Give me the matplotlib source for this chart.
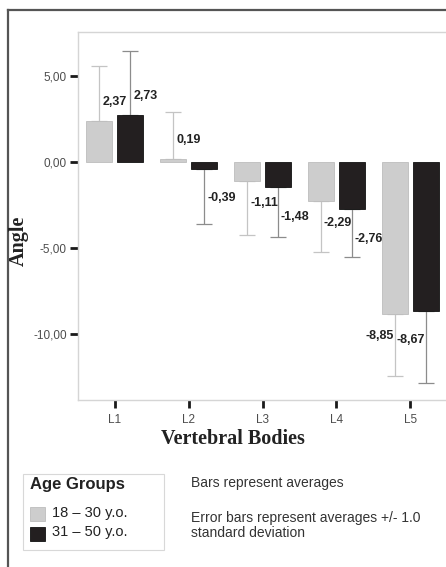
import numpy as np
import matplotlib
matplotlib.use("Agg")
import matplotlib.pyplot as plt
from matplotlib.lines import Line2D
from matplotlib.patches import Rectangle

# ---------------------------------------------------------------------------
# Data
# ---------------------------------------------------------------------------
vertebrae = ["L1", "L2", "L3", "L4", "L5"]
groups = ["18 \u2013 30 y.o.", "31 \u2013 50 y.o."]
mean_young = [2.37, 0.19, -1.11, -2.29, -8.85]
mean_old = [2.73, -0.39, -1.48, -2.76, -8.67]
sd_young = [3.21, 2.71, 3.15, 2.96, 3.61]
sd_old = [3.73, 3.21, 2.86, 2.77, 4.17]
yticks = [5, 0, -5, -10]

SANS = "Liberation Sans"
SERIF = "Liberation Serif"
W, H = 446, 567


def fx(px):
    return px / W


def fy(py):
    return 1 - py / H


fig = plt.figure(figsize=(W / 100, H / 100), dpi=100)
fig.patch.set_facecolor("white")
ax = fig.add_axes([fx(78), fy(400), fx(447) - fx(78), fy(32) - fy(400)])

x = np.arange(len(vertebrae))
width = 0.35
offset = 0.21

series = [
    (mean_young, sd_young, "#cdcdcd", "#bdbdbd", "#c4c4c4", -offset, 1.25),
    (mean_old, sd_old, "#231f20", "#111111", "#8c8c8c", offset, 1.7),
]

for means, sds, fc, ec, errc, dx, lab_off in series:
    means = np.asarray(means)
    sds = np.asarray(sds)
    # one-sided error bars, pointing away from zero
    lower = np.where(means < 0, sds, 0)
    upper = np.where(means >= 0, sds, 0)
    ax.errorbar(x + dx, means, yerr=[lower, upper], fmt="none",
                ecolor=errc, elinewidth=0.9, capsize=6, capthick=0.9, zorder=1)
    ax.bar(x + dx, means, width=width, color=fc, edgecolor=ec, linewidth=0.6, zorder=2)
    for i, (xi, m) in enumerate(zip(x + dx, means)):
        off = lab_off if m < 0 else 1.1
        ypos = m + (off if m >= 0 else -off)
        last = i == len(means) - 1
        # labels sit right of the whisker, except the last group (left of it)
        ax.annotate(f"{m:.2f}".replace(".", ","), (xi, ypos),
                    xytext=(-1 if last else 3, 0), textcoords="offset pixels",
                    ha="right" if last else "left", va="center",
                    fontsize=9, fontweight="bold", family=SANS,
                    color="#222222", zorder=3)

ax.set_xlim(-0.5, 4.5)
ax.set_ylim(-13.85, 7.57)
ax.set_xticks(x)
ax.set_xticklabels(vertebrae)
ax.set_yticks(yticks)
ax.set_yticklabels([f"{v:.2f}".replace(".", ",") for v in yticks])
ax.tick_params(axis="both", length=6, width=2, color="#1a1a1a",
               labelsize=8.5, labelcolor="#4d4d4d")
ax.tick_params(axis="y", pad=2)
ax.tick_params(axis="x", pad=4)
for lab in ax.get_xticklabels() + ax.get_yticklabels():
    lab.set_family(SANS)
for sp in ax.spines.values():
    sp.set_color("#d5d5d5")
    sp.set_linewidth(1.0)

# axis titles
fig.text(fx(19), fy(241), "Angle", rotation=90, ha="center", va="center",
         family=SERIF, fontweight="bold", fontsize=14.5, color="#222222")
fig.text(fx(233), fy(439), "Vertebral Bodies", ha="center", va="center",
         family=SERIF, fontweight="bold", fontsize=14.5, color="#222222")

# outer frame (top and left visible, rest cropped)
fig.add_artist(Line2D([fx(8), 1], [fy(10), fy(10)], transform=fig.transFigure,
                      color="#555555", lw=1.6))
fig.add_artist(Line2D([fx(8), fx(8)], [fy(10), 0], transform=fig.transFigure,
                      color="#555555", lw=1.6))

# legend box
fig.add_artist(Rectangle((fx(23), fy(550)), fx(164) - fx(23), fy(474) - fy(550),
                         transform=fig.transFigure, fill=False,
                         edgecolor="#d8d8d8", lw=0.8))
fig.text(fx(30), fy(484), "Age Groups", ha="left", va="center",
         family=SANS, fontweight="bold", fontsize=12, color="#222222")
for i, (name, (_, _, fc, ec, _, _, _)) in enumerate(zip(groups, series)):
    top = 507 + i * 20
    fig.add_artist(Rectangle((fx(30), fy(top + 14)), fx(15), fy(0) - fy(14),
                             transform=fig.transFigure, facecolor=fc,
                             edgecolor=ec, lw=0.6))
    fig.text(fx(52), fy(513 + i * 19), name, ha="left", va="center",
             family=SANS, fontsize=10.5, color="#222222")

# notes
fig.text(fx(191), fy(483), "Bars represent averages", ha="left", va="center",
         family=SANS, fontsize=10, color="#333333")
fig.text(fx(191), fy(525.5), "Error bars represent averages +/- 1.0\nstandard deviation",
         ha="left", va="center", family=SANS, fontsize=10, color="#333333",
         linespacing=1.12)

fig.savefig("out.png", dpi=100)
